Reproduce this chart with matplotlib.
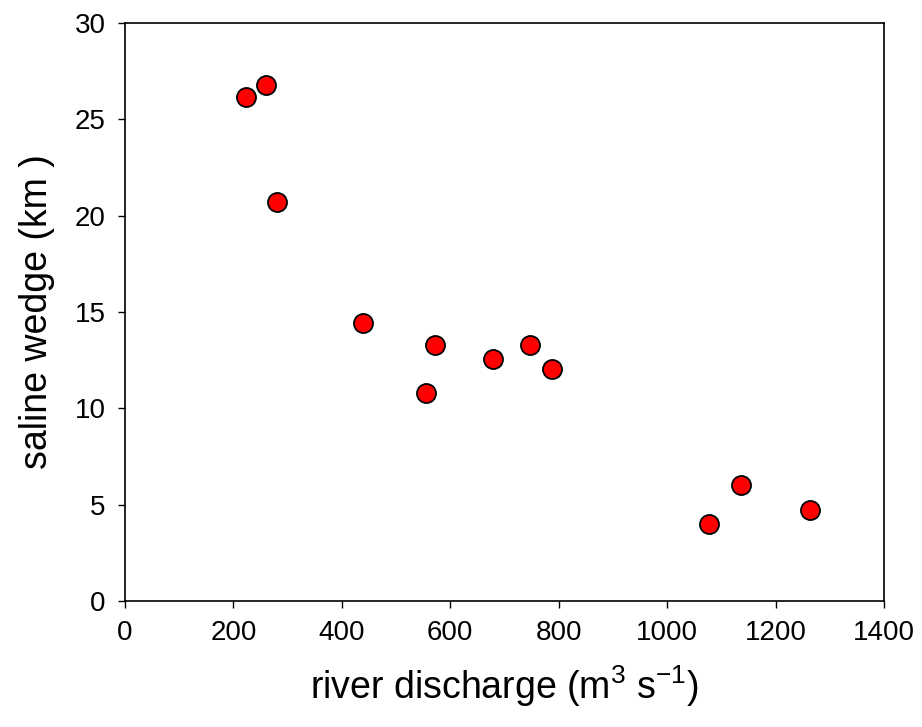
import matplotlib
matplotlib.use("Agg")
import matplotlib.pyplot as plt

plt.rcParams['font.family'] = ['Liberation Sans', 'DejaVu Sans']
plt.rcParams['mathtext.default'] = 'regular'

discharge = [223, 260, 280, 439, 572, 555, 679, 747, 788, 1077, 1136, 1264]
wedge = [26.15, 26.8, 20.7, 14.45, 13.3, 10.8, 12.56, 13.3, 12.05, 4.0, 6.0, 4.7]
xticks = [0, 200, 400, 600, 800, 1000, 1200, 1400]
yticks = [0, 5, 10, 15, 20, 25, 30]

fig = plt.figure(figsize=(9.22, 7.27), dpi=100)
ax = fig.add_axes([0.1356, 0.1733, 0.8232, 0.7951])
ax.scatter(discharge, wedge, s=13.7**2, c='#ff0000', edgecolors='black',
           linewidths=1.3, zorder=3, clip_on=False)
ax.set_xlim(0, 1400)
ax.set_ylim(0, 30)
ax.set_xticks(xticks)
ax.set_yticks(yticks)
ax.tick_params(direction='out', length=5, width=1.0, labelsize=20, pad=9,
               top=False, right=False)
for s in ax.spines.values():
    s.set_linewidth(1.2)
ax.set_xlabel('river discharge (m$^3$ s$^{-1}$)', fontsize=27, labelpad=12)
ax.set_ylabel('saline wedge (km )', fontsize=27, labelpad=14)
fig.savefig('out.png', dpi=100)
